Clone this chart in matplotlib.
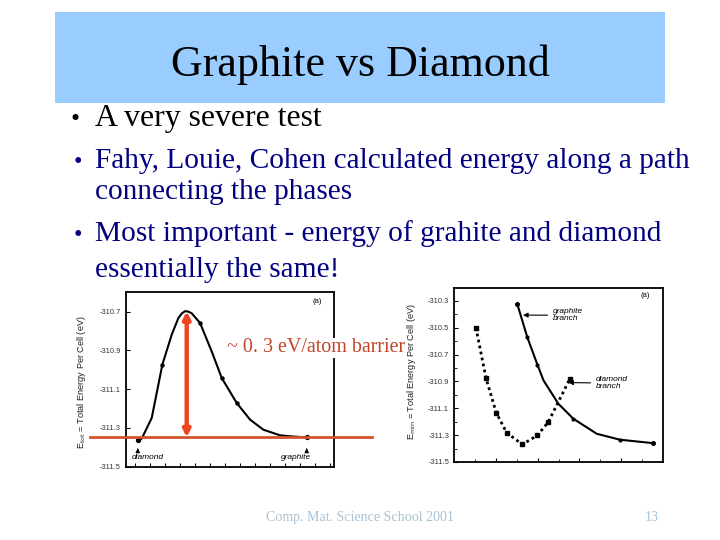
import numpy as np
import matplotlib
matplotlib.use("Agg")
import matplotlib.pyplot as plt
from matplotlib.patches import Rectangle

# ---------------- data ----------------
title = "Graphite vs Diamond"
bullets = [
    ("A very severe test", None),
    ("Fahy, Louie, Cohen calculated energy along a path", "connecting the phases"),
    ("Most important - energy of grahite and diamond", "essentially the same!"),
]
footer = "Comp. Mat. Science School 2001"
page = "13"

# left panel: energy along transformation path (diamond -> graphite)
path_x = [0.058, 0.077, 0.125, 0.176, 0.221, 0.253, 0.270, 0.285, 0.300, 0.317, 0.357,
          0.413, 0.461, 0.533, 0.597, 0.661, 0.741, 0.789, 0.869]
path_e = [-311.362, -311.355, -311.248, -310.973, -310.818, -310.732, -310.708, -310.697,
          -310.699, -310.708, -310.758, -310.905, -311.042, -311.171, -311.257, -311.309,
          -311.338, -311.343, -311.349]
path_dot_x = [0.176, 0.357, 0.461, 0.533]
path_dot_e = [-310.973, -310.758, -311.042, -311.171]
left_yticks = [-310.7, -310.9, -311.1, -311.3, -311.5]

# right panel: two branches
diam_x = [0.105, 0.153, 0.202, 0.252, 0.327, 0.399, 0.451, 0.555]
diam_e = [-310.50, -310.875, -311.133, -311.282, -311.369, -311.302, -311.203, -310.879]
graph_x = [0.303, 0.351, 0.399, 0.428, 0.499, 0.571, 0.683, 0.794, 0.954]
graph_e = [-310.325, -310.573, -310.775, -310.892, -311.066, -311.178, -311.290,
           -311.334, -311.360]
graph_dot_x = [0.351, 0.399, 0.571, 0.794]
graph_dot_e = [-310.573, -310.775, -311.178, -311.334]
right_yticks = [-310.3, -310.5, -310.7, -310.9, -311.1, -311.3, -311.5]

barrier_text = "~ 0. 3 eV/atom barrier"

# ---------------- figure ----------------
W, H = 720, 540
fig = plt.figure(figsize=(7.2, 5.4), dpi=100)
fig.patch.set_facecolor("white")
serif = ["Liberation Serif", "DejaVu Serif"]
sans = ["Liberation Sans", "DejaVu Sans"]


def px2pt(px):
    return px * 72.0 / 100.0


# overlay in pixel coordinates for slide furniture
ov = fig.add_axes([0, 0, 1, 1], zorder=0)
ov.set_xlim(0, W)
ov.set_ylim(H, 0)
ov.axis("off")

ov.add_patch(Rectangle((55, 12), 610, 91, facecolor="#99CCFF", edgecolor="none"))
ov.text(360, 76, title, ha="center", va="baseline", family=serif,
        fontsize=px2pt(44), color="black")

navy = "#000080"
ov.text(75, 126, "\u2022", ha="center", va="baseline", family=serif,
        fontsize=px2pt(26), color="black")
ov.text(95, 126, bullets[0][0], ha="left", va="baseline", family=serif,
        fontsize=px2pt(31.8), color="black")
ys = [(168, 199), (241, 277)]
for (l1, l2), (y1, y2) in zip(bullets[1:], ys):
    ov.text(78, y1, "\u2022", ha="center", va="baseline", family=serif,
            fontsize=px2pt(24), color=navy)
    ov.text(95, y1, l1, ha="left", va="baseline", family=serif,
            fontsize=px2pt(29.4), color=navy)
    ov.text(95, y2, l2, ha="left", va="baseline", family=serif,
            fontsize=px2pt(29.4), color=navy)

ov.text(360, 521, footer, ha="center", va="baseline", family=serif,
        fontsize=px2pt(14), color="#A9C3D6")
ov.text(652, 521, page, ha="center", va="baseline", family=serif,
        fontsize=px2pt(14), color="#A9C3D6")


def make_axes(x0, x1, y0, y1):
    return fig.add_axes([x0 / W, 1 - y1 / H, (x1 - x0) / W, (y1 - y0) / H], zorder=2)


tick_kw = dict(direction="in", labelsize=5.4, labelcolor="#333333", length=3, width=0.8)

# ---------------- left panel ----------------
axL = make_axes(125.7, 334.0, 292.0, 466.7)
axL.set_xlim(0, 1)
axL.set_ylim(-311.5, -310.598)
axL.plot(path_x, path_e, color="black", lw=1.5, solid_joinstyle="round")
axL.plot(path_dot_x, path_dot_e, "o", color="black", ms=2.2)
axL.plot([path_x[0], path_x[-1]], [path_e[0], path_e[-1]], "o", color="black", ms=2.8)
axL.set_yticks(left_yticks)
axL.set_yticklabels([f"{v:.1f}" for v in left_yticks], family=sans)
axL.set_xticks(np.arange(0.045, 1.0, 0.072))
axL.set_xticklabels([])
axL.tick_params(axis="both", **tick_kw)
for s in axL.spines.values():
    s.set_linewidth(1.3)
axL.set_ylabel(r"E$_{\rm tot}$ = Total Energy Per Cell (eV)", family=sans, fontsize=6.6,
               color="#222222")
axL.yaxis.set_label_coords(-0.181, 0.485)
axL.text(0.917, -310.648, "(a)", fontsize=5.5, family=sans, ha="center", va="center")
axL.text(0.106, -311.453, "diamond", fontsize=6, style="italic", family=sans,
         ha="center", va="center")
axL.text(0.818, -311.453, "graphite", fontsize=6, style="italic", family=sans,
         ha="center", va="center")
for xx in (path_x[0], path_x[-1]):
    axL.annotate("", xy=(xx, -311.39), xytext=(xx, -311.425),
                 arrowprops=dict(arrowstyle="-|>", color="black", lw=0.8, mutation_scale=6))

# barrier marking (drawn through the left axes' data scale)
peak_i = int(np.argmax(path_e))
axL.plot([-0.171, 1.182], [path_e[-1], path_e[-1]], color="#D2532E", lw=2.0,
         clip_on=False, zorder=5)
axL.annotate("", xy=(0.293, path_e[peak_i]), xytext=(0.293, path_e[-1]),
             arrowprops=dict(arrowstyle="<|-|>", color="#EE4420", lw=3.2,
                             mutation_scale=10, shrinkA=0, shrinkB=0),
             annotation_clip=False, zorder=6)
axL.text(0.486, -310.887, barrier_text, family=serif, fontsize=px2pt(20),
         color="#C2452A", ha="left", va="center", clip_on=False, zorder=7,
         bbox=dict(facecolor="white", edgecolor="none", pad=0.5))

# ---------------- right panel ----------------
axR = make_axes(454.0, 663.0, 288.0, 462.0)
axR.set_xlim(0, 1)
axR.set_ylim(-311.5, -310.205)
axR.plot(diam_x, diam_e, ls=(0, (1, 1.2)), color="black", lw=2.0)
axR.plot(diam_x, diam_e, "s", color="black", ms=3.0)
axR.plot(graph_x, graph_e, color="black", lw=1.5)
axR.plot(graph_dot_x, graph_dot_e, "o", color="black", ms=2.0)
axR.plot([graph_x[0], graph_x[-1]], [graph_e[0], graph_e[-1]], "o", color="black", ms=2.6)
axR.set_yticks(right_yticks)
axR.set_yticklabels([f"{v:.1f}" for v in right_yticks], family=sans)
axR.set_yticks(np.arange(-311.4, -310.2, 0.2), minor=True)
axR.set_xticks([0.2, 0.4, 0.6, 0.8])
axR.set_xticks(np.arange(0.1, 1.0, 0.2), minor=True)
axR.set_xticklabels([])
axR.tick_params(axis="both", **tick_kw)
axR.tick_params(axis="both", which="minor", direction="in", length=2, width=0.6)
for s in axR.spines.values():
    s.set_linewidth(1.3)
axR.set_ylabel(r"E$_{\rm min}$ = Total Energy Per Cell (eV)", family=sans, fontsize=6.6,
               color="#222222")
axR.yaxis.set_label_coords(-0.172, 0.517)
axR.text(0.914, -310.26, "(a)", fontsize=5.5, family=sans, ha="center", va="center")
axR.annotate("graphite\nbranch", xy=(0.33, -310.407), xytext=(0.474, -310.407),
             fontsize=6, style="italic", family=sans, ha="left", va="center",
             linespacing=0.95,
             arrowprops=dict(arrowstyle="-|>", color="black", lw=0.8,
                             mutation_scale=7, shrinkA=2, shrinkB=0))
axR.annotate("diamond\nbranch", xy=(0.547, -310.909), xytext=(0.68, -310.913),
             fontsize=6, style="italic", family=sans, ha="left", va="center",
             linespacing=0.95,
             arrowprops=dict(arrowstyle="-|>", color="black", lw=0.8,
                             mutation_scale=7, shrinkA=2, shrinkB=0))

fig.savefig("out.png", dpi=100)
